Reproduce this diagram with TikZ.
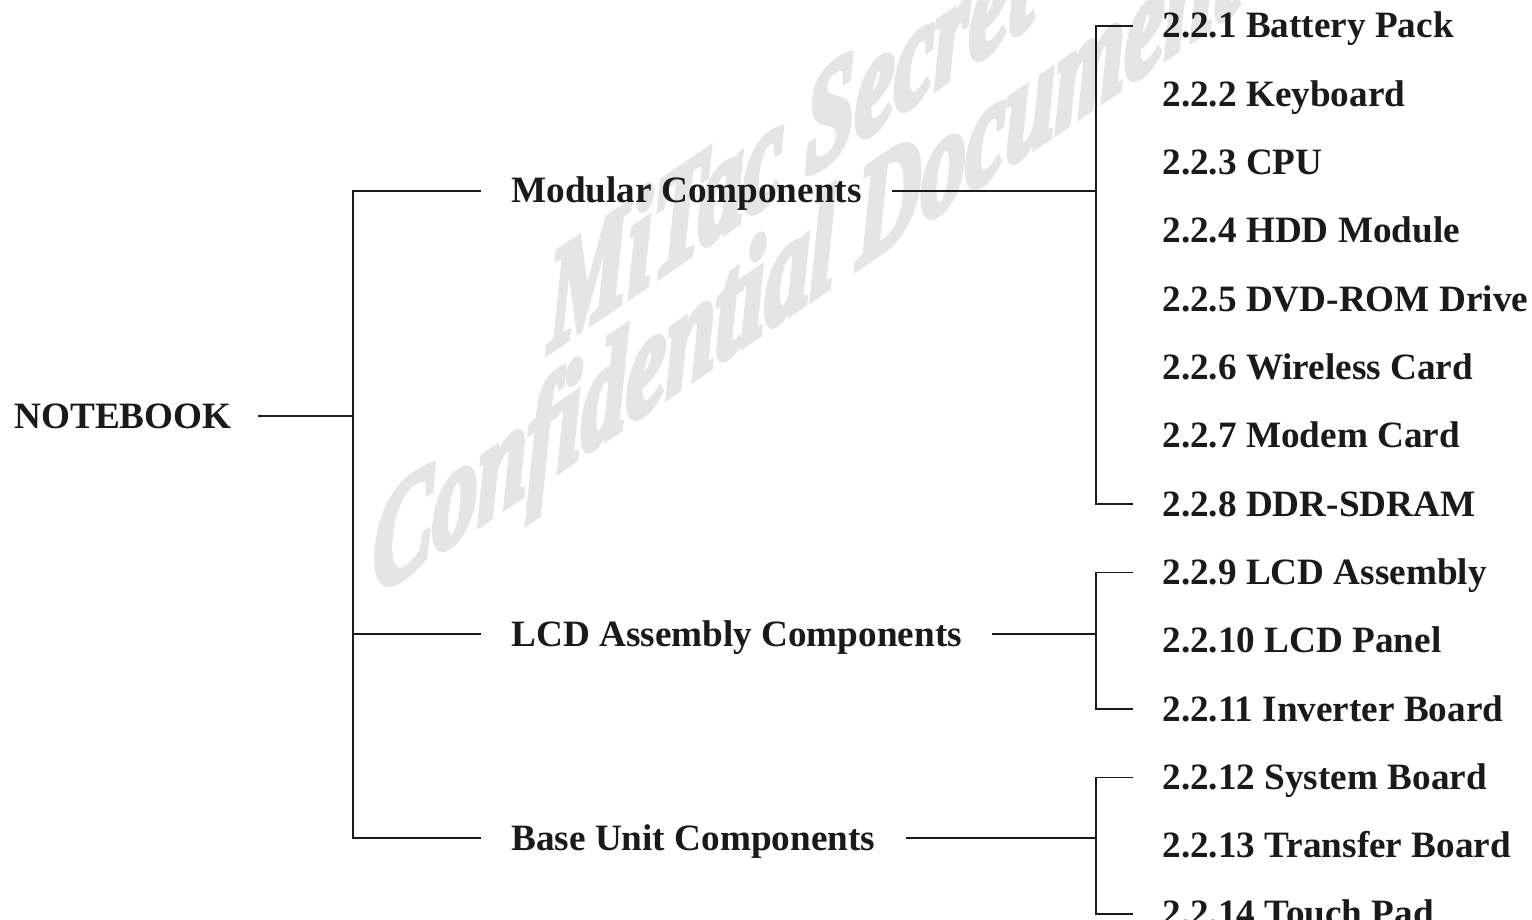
\documentclass[tikz,border=0pt]{standalone}
\usepackage{fontspec}
\setmainfont{Liberation Serif}
\newfontfamily\wmfont{Liberation Serif Bold Italic}[FakeBold=5]
\usetikzlibrary{positioning}
\definecolor{inkblack}{HTML}{1A1A1A}
\definecolor{wmgray}{HTML}{E5E5E5}

\begin{document}
\begin{tikzpicture}[x=0.5pt, y=-0.5pt, node distance=21.75pt,
  lbl/.style={font=\bfseries\fontsize{18.6}{22}\selectfont, text=inkblack, inner ysep=0pt, text height=12pt, text depth=0pt},
  root/.style={lbl, inner xsep=13pt},
  part/.style={lbl, inner xsep=15pt},
  leaf/.style={lbl, inner xsep=14.5pt},
  wmark/.style={font=\wmfont\fontsize{46}{55}\selectfont, text=wmgray, yslant=0.68, xscale=0.97, yscale=1.55, inner sep=0pt},
  link/.style={draw=inkblack, line width=0.8pt}]
\useasboundingbox (0,0) rectangle (1532,920);

% watermark
\node[wmark, anchor=base west] (wm1) at (548,352) {MiTac Secret};
\node[wmark, anchor=base west] (wm2) at (373,597) {Confidential Document};

% root and component groups
\node[root, anchor=east] (nb) at (258,416) {NOTEBOOK};
\node[part, anchor=west] (mod) at (481,191) {Modular Components};
\node[part, anchor=west] (lcd) at (481,634) {LCD Assembly Components};
\node[part, anchor=west] (baseunit) at (481,838) {Base Unit Components};

% parts
\node[leaf, anchor=west] (l1) at (1133,26) {2.2.1 Battery Pack};
\node[leaf, below=of l1.south west, anchor=north west] (l2) {2.2.2 Keyboard};
\node[leaf, below=of l2.south west, anchor=north west] (l3) {2.2.3 CPU};
\node[leaf, below=of l3.south west, anchor=north west] (l4) {2.2.4 HDD Module};
\node[leaf, below=of l4.south west, anchor=north west] (l5) {2.2.5 DVD-ROM Drive};
\node[leaf, below=of l5.south west, anchor=north west] (l6) {2.2.6 Wireless Card};
\node[leaf, below=of l6.south west, anchor=north west] (l7) {2.2.7 Modem Card};
\node[leaf, below=of l7.south west, anchor=north west] (l8) {2.2.8 DDR-SDRAM};
\node[leaf, below=of l8.south west, anchor=north west] (l9) {2.2.9 LCD Assembly};
\node[leaf, below=of l9.south west, anchor=north west] (l10) {2.2.10 LCD Panel};
\node[leaf, below=of l10.south west, anchor=north west] (l11) {2.2.11 Inverter Board};
\node[leaf, below=of l11.south west, anchor=north west] (l12) {2.2.12 System Board};
\node[leaf, below=of l12.south west, anchor=north west] (l13) {2.2.13 Transfer Board};
\node[leaf, below=of l13.south west, anchor=north west] (l14) {2.2.14 Touch Pad};

\coordinate (trunk) at (353,0);
\coordinate (bar) at (1096,0);

% tree lines
\draw[link] (nb.east) -- (nb.east -| trunk);
\draw[link] (mod.west) -- (mod.west -| trunk) -- (baseunit.west -| trunk) -- (baseunit.west);
\draw[link] (lcd.west) -- (lcd.west -| trunk);
\draw[link] (mod.east) -- (mod.east -| bar);
\draw[link] (l1.west) -- (l1.west -| bar) -- (l8.west -| bar) -- (l8.west);
\draw[link] (lcd.east) -- (lcd.east -| bar);
\draw[link] (l9.west) -- (l9.west -| bar) -- (l11.west -| bar) -- (l11.west);
\draw[link] (baseunit.east) -- (baseunit.east -| bar);
\draw[link] (l12.west) -- (l12.west -| bar) -- (l14.west -| bar) -- (l14.west);
\end{tikzpicture}
\end{document}
